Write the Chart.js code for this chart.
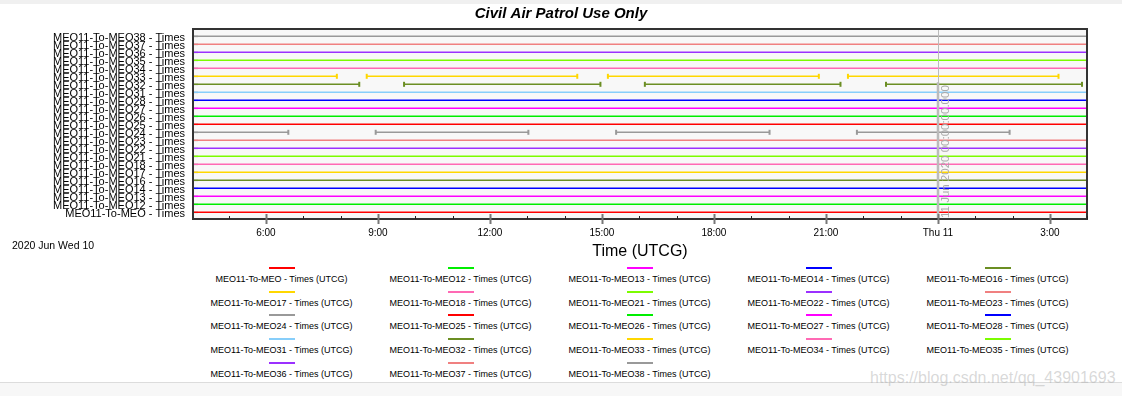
<!DOCTYPE html>
<html>
<head>
<meta charset="utf-8">
<title>Civil Air Patrol Use Only</title>
<script src="https://cdn.jsdelivr.net/npm/chart.js@4.4.1/dist/chart.umd.min.js"></script>
<style>
	html, body { margin: 0; padding: 0; background: #fff; }
	body {
		position: relative;
		width: 1122px;
		height: 396px;
		overflow: hidden;
		font-family: 'Liberation Sans', Arial, sans-serif;
	}
	#topStrip { position: absolute; left: 0; top: 0; width: 1122px; height: 4px; background: #f0f0f0; }
	#bottomStrip { position: absolute; left: 0; top: 382px; width: 1122px; height: 14px; background: #f7f7f7; border-top: 1px solid #dcdcdc; }
	#chartBox { position: absolute; left: 0; top: 0; width: 1122px; height: 262px; }
	#dateLabel { position: absolute; left: 12px; top: 239px; font-size: 10.5px; line-height: 12px; color: #000; }
	#legend {
		position: absolute;
		left: 192px;
		top: 262px;
		width: 895px;
		display: grid;
		grid-template-columns: repeat(5, 179px);
		grid-auto-rows: 23.7px;
	}
	.item { text-align: center; font-size: 9px; color: #000; }
	.swatch { width: 26px; height: 2px; margin: 5px auto 0; }
	.text { margin-top: 5px; line-height: 10px; white-space: nowrap; }
	#watermark {
		position: absolute;
		left: 870px;
		top: 369px;
		font-size: 16px;
		line-height: 18px;
		color: rgba(170, 170, 170, 0.45);
		white-space: nowrap;
	}
</style>
</head>
<body>
<div id="topStrip"></div>
<div id="chartBox"><canvas id="accessChart" width="1122" height="262"></canvas></div>
<div id="dateLabel">2020 Jun Wed 10</div>
<div id="legend"></div>
<div id="bottomStrip"></div>
<div id="watermark">https://blog.csdn.net/qq_43901693</div>

<script>
/************  DATA  ************/

// Rows from bottom to top of the plot
const rowNames = [
	'MEO', 'MEO12', 'MEO13', 'MEO14', 'MEO16', 'MEO17', 'MEO18', 'MEO21',
	'MEO22', 'MEO23', 'MEO24', 'MEO25', 'MEO26', 'MEO27', 'MEO28', 'MEO31',
	'MEO32', 'MEO33', 'MEO34', 'MEO35', 'MEO36', 'MEO37', 'MEO38',
];
const rowColors = [
	'#ff0000', '#00ee00', '#ff00ff', '#0000ff', '#6b8e23', '#ffd700', '#ff69b4', '#7cfc00',
	'#9b30ff', '#f08080', '#999999', '#ff0000', '#00ee00', '#ff00ff', '#0000ff', '#87cefa',
	'#6b8e23', '#ffd700', '#ff69b4', '#7cfc00', '#9b30ff', '#f08080', '#999999',
];

// Access windows in hours since 10 Jun 2020 00:00 UTCG
const fullAccess = [[4.0, 28.05]];
const meo24Access = [[4.0, 6.60], [8.94, 13.03], [15.38, 19.49], [21.83, 25.92]];
const meo32Access = [[4.0, 8.50], [9.70, 14.96], [16.15, 21.39], [22.61, 27.86]];
const meo33Access = [[4.0, 7.90], [8.70, 14.34], [15.16, 20.81], [21.59, 27.23]];
const partialAccess = { MEO24: meo24Access, MEO32: meo32Access, MEO33: meo33Access };

// Time axis
const hourMin = 4.02;
const hourMax = 28.02;
const hourTicks = [5, 6, 7, 8, 9, 10, 11, 12, 13, 14, 15, 16, 17, 18, 19, 20, 21, 22, 23, 24, 25, 26, 27, 28];
const markerHour = 24;
const markerText = '11 Jun 2020 00:00:00.000';

/************  HELPERS  ************/

function hourLabel(h) {
	if (h % 3 !== 0) return '';
	if (h === 24) return 'Thu 11';
	return `${h % 24}:00`;
}

function rowLabel(name) {
	return `MEO11-To-${name} - Times`;
}

function accessPoints(windows, row) {
	const points = [];
	windows.forEach(([start, end]) => {
		points.push({ x: start, y: row }, { x: end, y: row }, { x: end, y: null });
	});
	return points;
}

/************  PLUGIN  ************/

const accessDecor = {
	id: 'accessDecor',
	beforeDatasetsDraw(chart) {
		const { ctx, chartArea: a, scales } = chart;
		ctx.save();
		ctx.fillStyle = '#f8f8f8';
		ctx.fillRect(a.left, a.top, a.right - a.left, a.bottom - a.top);
		// short inner y ticks
		ctx.strokeStyle = '#d0d0d0';
		ctx.lineWidth = 2;
		rowNames.forEach((_, i) => {
			const y = scales.y.getPixelForValue(i);
			ctx.beginPath();
			ctx.moveTo(a.left + 1, y);
			ctx.lineTo(a.left + 6, y);
			ctx.stroke();
		});
		ctx.restore();
	},
	afterDatasetsDraw(chart) {
		const { ctx, chartArea: a, scales } = chart;
		ctx.save();

		// time marker
		const mx = Math.round(scales.x.getPixelForValue(markerHour)) + 0.5;
		ctx.font = "11.5px 'Liberation Sans', Arial, sans-serif";
		const textLen = ctx.measureText(markerText).width;
		ctx.strokeStyle = '#bbbbbb';
		ctx.lineWidth = 1;
		ctx.beginPath();
		ctx.moveTo(mx, a.top);
		ctx.lineTo(mx, a.bottom);
		ctx.stroke();
		ctx.lineWidth = 2.5;
		ctx.beginPath();
		ctx.moveTo(mx - 0.5, a.bottom - textLen - 4);
		ctx.lineTo(mx - 0.5, a.bottom);
		ctx.stroke();
		ctx.save();
		ctx.translate(mx + 2, a.bottom - 1);
		ctx.rotate(-Math.PI / 2);
		ctx.fillStyle = '#aaaaaa';
		ctx.textAlign = 'left';
		ctx.textBaseline = 'top';
		ctx.fillText(markerText, 0, 0);
		ctx.restore();

		// frame
		ctx.strokeStyle = '#333333';
		ctx.lineWidth = 2;
		ctx.strokeRect(a.left + 1, a.top + 1, a.right - a.left - 2, a.bottom - a.top - 1);

		// x tick marks
		hourTicks.forEach(h => {
			if (h <= hourMin || h >= hourMax) return;
			const x = Math.round(scales.x.getPixelForValue(h)) + 0.5;
			ctx.beginPath();
			if (h % 3 === 0) {
				ctx.strokeStyle = '#777777';
				ctx.lineWidth = 2;
				ctx.moveTo(x, a.bottom - 5);
				ctx.lineTo(x, a.bottom + 5);
			} else {
				ctx.strokeStyle = '#222222';
				ctx.lineWidth = 1;
				ctx.moveTo(x, a.bottom - 3);
				ctx.lineTo(x, a.bottom);
			}
			ctx.stroke();
		});
		ctx.restore();
	},
};

/************  CHART  ************/

Chart.defaults.font.family = "'Liberation Sans', Arial, sans-serif";
Chart.defaults.color = '#000';

const datasets = rowNames.map((name, i) => ({
	label: `MEO11-To-${name} - Times (UTCG)`,
	data: accessPoints(partialAccess[name] || fullAccess, i),
	borderColor: rowColors[i],
	backgroundColor: rowColors[i],
	borderWidth: 1.5,
	pointStyle: 'line',
	rotation: 90,
	pointBorderWidth: 2,
	pointRadius: ctx => {
		const p = ctx.raw;
		return p && p.y !== null && p.x > hourMin && p.x < hourMax ? 2.5 : 0;
	},
	pointHoverRadius: 0,
	spanGaps: false,
	tension: 0,
	clip: 0,
}));

const chart = new Chart(document.getElementById('accessChart'), {
	type: 'line',
	data: { datasets },
	options: {
		responsive: false,
		animation: false,
		events: [],
		layout: { padding: { left: 34, right: 34, top: 0, bottom: 0 } },
		plugins: {
			legend: { display: false },
			tooltip: { enabled: false },
			title: {
				display: true,
				text: 'Civil Air Patrol Use Only',
				color: '#000',
				font: { size: 15, weight: 'bold', style: 'italic' },
				padding: { top: 5, bottom: 5 },
			},
		},
		scales: {
			x: {
				type: 'linear',
				min: hourMin,
				max: hourMax,
				afterBuildTicks: scale => {
					scale.ticks = hourTicks.map(h => ({ value: h }));
				},
				afterFit: scale => {
					scale.height = 43;
				},
				ticks: {
					autoSkip: false,
					maxRotation: 0,
					padding: 8,
					font: { size: 10 },
					callback: value => hourLabel(value),
				},
				grid: { display: false, drawTicks: false },
				border: { display: false },
				title: {
					display: true,
					text: 'Time (UTCG)',
					font: { size: 16 },
					padding: { top: 0, bottom: 0.5 },
				},
			},
			y: {
				type: 'linear',
				min: -0.84,
				max: 23.04,
				afterBuildTicks: scale => {
					scale.ticks = rowNames.map((_, i) => ({ value: i }));
				},
				afterFit: scale => {
					scale.width = 158;
				},
				ticks: {
					autoSkip: false,
					padding: 7,
					labelOffset: 1.5,
					font: { size: 11 },
					callback: value => rowLabel(rowNames[value]),
				},
				grid: { display: false, drawTicks: false },
				border: { display: false },
			},
		},
	},
	plugins: [accessDecor],
});

/************  LEGEND  ************/

const legendBox = document.querySelector('#legend');
chart.data.datasets.forEach(ds => {
	const item = document.createElement('div');
	item.className = 'item';
	item.innerHTML = `<div class="swatch" style="background:${ds.borderColor}"></div><div class="text">${ds.label}</div>`;
	legendBox.appendChild(item);
});
</script>
</body>
</html>
